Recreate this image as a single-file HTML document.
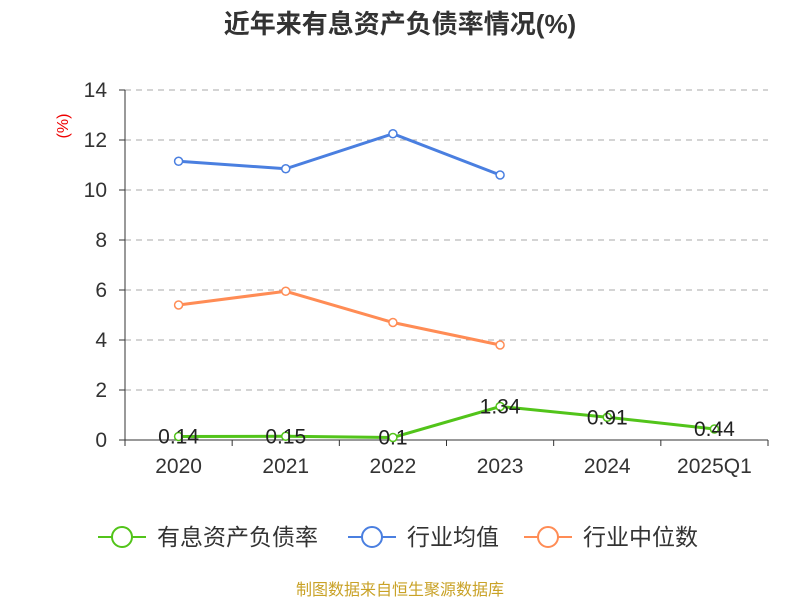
<!DOCTYPE html>
<html><head><meta charset="utf-8"><style>
body{margin:0;background:#fff;font-family:"Liberation Sans","Noto Sans CJK SC",sans-serif;}
</style></head><body>
<svg id="c" width="800" height="600" xmlns="http://www.w3.org/2000/svg" font-family="Liberation Sans, Noto Sans CJK SC, sans-serif">
<text x="400" y="33" text-anchor="middle" font-size="26" font-weight="bold" fill="#333">近年来有息资产负债率情况(%)</text>
<text x="68" y="126" text-anchor="middle" font-size="16" fill="#e00" transform="rotate(-90 68 126)">(%)</text>
<g id="grid"></g><g id="axes"></g><g id="series"></g>
<g>
<g><line x1="98" y1="537" x2="146" y2="537" stroke="#52c41a" stroke-width="2"/><circle cx="122" cy="537" r="10" fill="#fff" stroke="#52c41a" stroke-width="2"/><text x="157" y="545" font-size="23" fill="#333">有息资产负债率</text></g>
<g><line x1="348" y1="537" x2="396" y2="537" stroke="#4a7fe0" stroke-width="2"/><circle cx="372" cy="537" r="10" fill="#fff" stroke="#4a7fe0" stroke-width="2"/><text x="407" y="545" font-size="23" fill="#333">行业均值</text></g>
<g><line x1="524" y1="537" x2="572" y2="537" stroke="#ff8c55" stroke-width="2"/><circle cx="548" cy="537" r="10" fill="#fff" stroke="#ff8c55" stroke-width="2"/><text x="583" y="545" font-size="23" fill="#333">行业中位数</text></g>
</g>
<text x="400" y="595" text-anchor="middle" font-size="16" fill="#c9a227">制图数据来自恒生聚源数据库</text>
</svg>
<script>
const categories=["2020","2021","2022","2023","2024","2025Q1"];
const debtRatio=[0.14,0.15,0.1,1.34,0.91,0.44];
const debtLabels=["0.14","0.15","0.1","1.34","0.91","0.44"];
const industryMean=[11.15,10.85,12.25,10.6];
const industryMedian=[5.4,5.95,4.7,3.8];
const yTicks=[0,2,4,6,8,10,12,14];
const NS="http://www.w3.org/2000/svg";
const L=125,R=768,T=90,B=440,yMax=14;
const bw=(R-L)/categories.length;
const xs=i=>L+bw*(i+0.5);
const ys=v=>B-(v/yMax)*(B-T);
function mk(tag,attrs,parent){const e=document.createElementNS(NS,tag);for(const k in attrs)e.setAttribute(k,attrs[k]);parent.appendChild(e);return e;}
const grid=document.getElementById('grid'),axes=document.getElementById('axes'),ser=document.getElementById('series');
yTicks.forEach(t=>{
 const y=ys(t);
 if(t>0){const g=mk('line',{x1:L,x2:R,y1:y,y2:y,stroke:'#aaa','stroke-dasharray':'6,5'},grid);
 
 }
 const tk=mk('line',{x1:L-6,x2:L,y1:y,y2:y,stroke:'#333'},axes);
 
 
 const tx=mk('text',{x:L-18,y:y+7,'text-anchor':'end','font-size':21,fill:'#333'},axes);tx.textContent=t;
 
 
});
const ya=mk('line',{x1:L,x2:L,y1:T,y2:B,stroke:'#333'},axes);


const xa=mk('line',{x1:L,x2:R,y1:B,y2:B,stroke:'#333'},axes);


for(let i=0;i<=categories.length;i++){const tk=mk('line',{x1:L+bw*i,x2:L+bw*i,y1:B,y2:B+6,stroke:'#333'},axes);
 
 }
categories.forEach((c,i)=>{const t=mk('text',{x:xs(i),y:B+33,'text-anchor':'middle','font-size':21,fill:'#333'},axes);t.textContent=c;
 
 });
function series(data,color,name){
 const g=mk('g',{},ser);
 
 
 const p=mk('polyline',{points:data.map((v,i)=>xs(i)+','+ys(v)).join(' '),fill:'none',stroke:color,'stroke-width':3},g);
 
 
 data.forEach((v,i)=>{const c=mk('circle',{cx:xs(i),cy:ys(v),r:4,fill:'#fff',stroke:color,'stroke-width':1.5},g);
  
  });
 return g;
}
series(industryMean,'#4a7fe0','industry-mean-series');
series(industryMedian,'#ff8c55','industry-median-series');
const dg=series(debtRatio,'#52c41a','debt-ratio-series');
debtRatio.forEach((v,i)=>{const t=mk('text',{x:xs(i),y:ys(v)+7,'text-anchor':'middle','font-size':21,fill:'#222'},dg);t.textContent=debtLabels[i];
 
 });
</script>
</body></html>
